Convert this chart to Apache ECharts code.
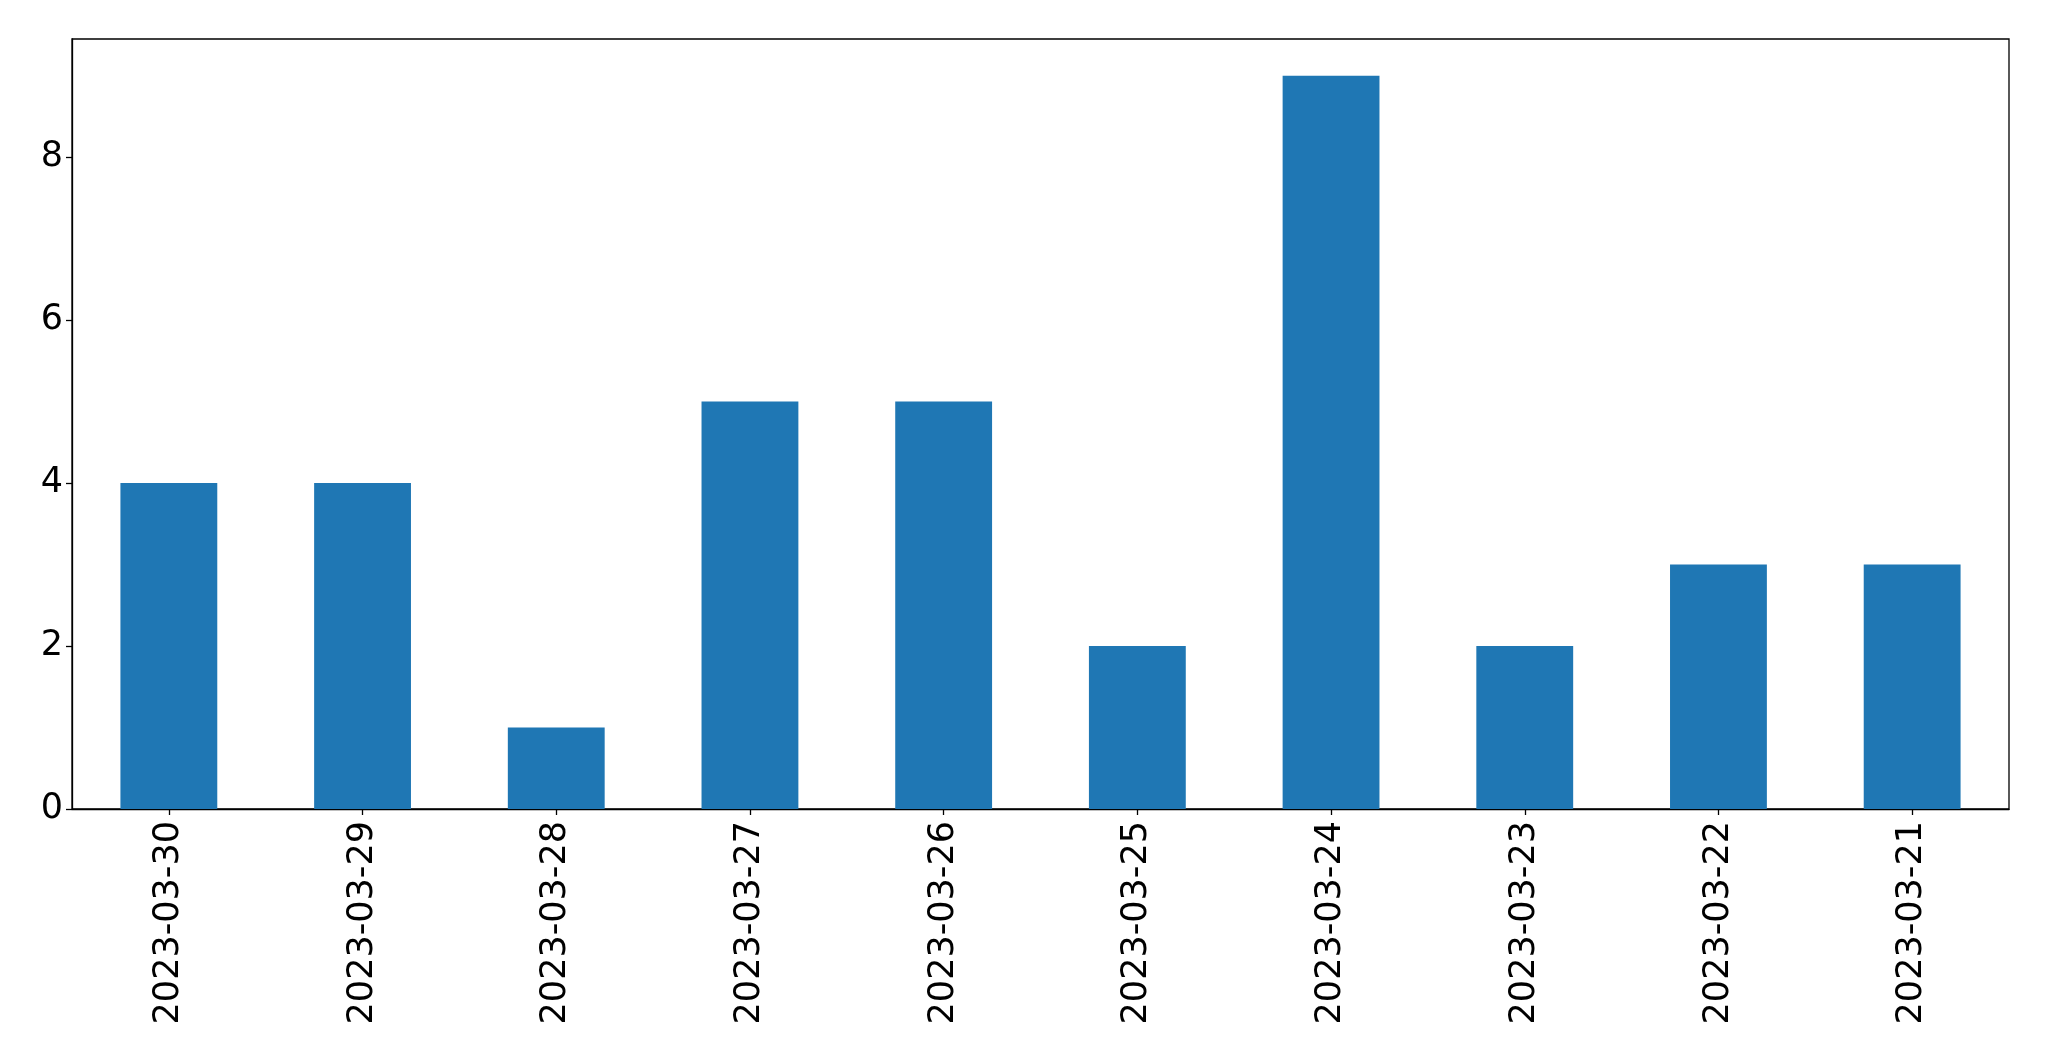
<!DOCTYPE html>
<html>
<head>
<meta charset="utf-8">
<script src="https://cdn.jsdelivr.net/npm/echarts@6/dist/echarts.min.js"></script>
<style>
html,body{margin:0;padding:0;background:#fff;}
#chart{width:2049px;height:1061px;}
</style>
</head>
<body>
<div id="chart"></div>
<script>
const categories = ['2023-03-30','2023-03-29','2023-03-28','2023-03-27','2023-03-26','2023-03-25','2023-03-24','2023-03-23','2023-03-22','2023-03-21'];
const values = [4, 4, 1, 5, 5, 2, 9, 2, 3, 3];
const yTicks = [0, 2, 4, 6, 8];

const chart = echarts.init(document.getElementById('chart'), null, {renderer: 'canvas'});
chart.setOption({
  animation: false,
  backgroundColor: '#ffffff',
  grid: {left: 72, top: 39, right: 40, bottom: 252, show: true, borderColor: '#000', borderWidth: 1.3, backgroundColor: 'transparent'},
  xAxis: {
    type: 'category',
    data: categories,
    axisLine: {show: true, lineStyle: {color: '#000', width: 1.3}},
    axisTick: {show: true, alignWithLabel: true, length: 6, lineStyle: {color: '#000', width: 1.3}},
    axisLabel: {rotate: 90, margin: 12, color: '#000', fontSize: 35, fontFamily: 'DejaVu Sans', interval: 0}
  },
  yAxis: {
    type: 'value',
    min: 0,
    max: 9.45,
    interval: 2,
    splitLine: {show: false},
    axisLine: {show: true, lineStyle: {color: '#000', width: 1.3}},
    axisTick: {show: true, length: 6, lineStyle: {color: '#000', width: 1.3}, customValues: yTicks},
    axisLabel: {margin: 9, color: '#000', fontSize: 35, fontFamily: 'DejaVu Sans', customValues: yTicks}
  },
  series: [{
    type: 'bar',
    data: values,
    barCategoryGap: '50%',
    itemStyle: {color: '#1f77b4'}
  }]
});
</script>
</body>
</html>
